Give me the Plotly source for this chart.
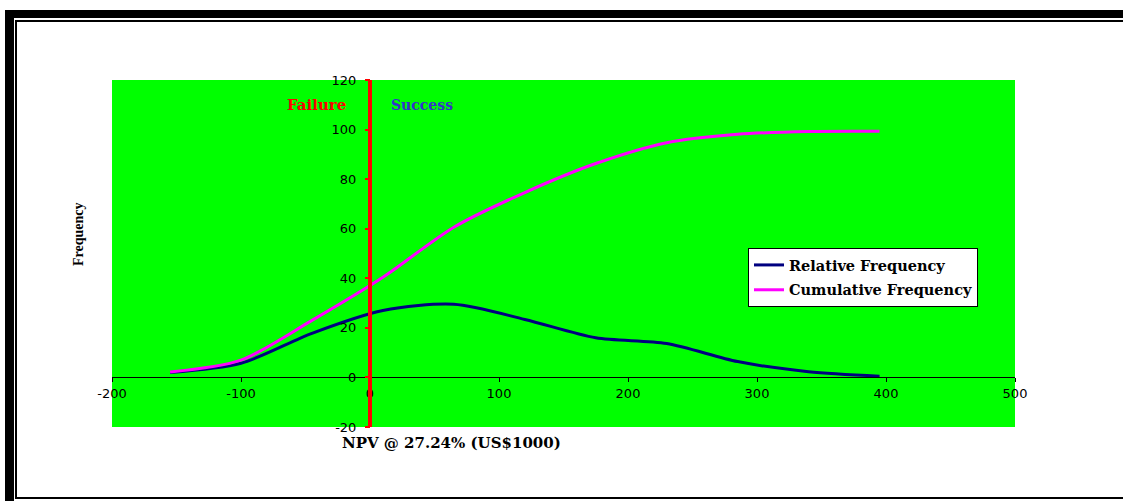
import plotly.graph_objects as go

# NPV bin midpoints (US$1000) and frequencies (%)
npv = [-155, -100, -45, 10, 65, 120, 175, 230, 285, 340, 395]
relative_freq = [2.0, 5.7, 17.8, 27.0, 29.5, 23.4, 16.0, 13.7, 6.4, 2.3, 0.5]
cumulative_freq = [2.2, 7.0, 23.0, 40.4, 60.6, 74.6, 86.3, 94.7, 98.1, 99.2, 99.3]

x_ticks = [-200, -100, 0, 100, 200, 300, 400, 500]
y_ticks = [-20, 0, 20, 40, 60, 80, 100, 120]
x_range = [-200, 500]
y_range = [-20, 120]
breakeven = 0

W, H = 1123, 501
L, R, T, B = 112, 1015, 80, 427  # plot area in pixels

SERIF = "DejaVu Serif"
NARROW_SERIF = "Liberation Serif"
SANS = "DejaVu Sans"


def px_x(p):
    return (p - L) / (R - L)


def px_y(p):
    return (B - p) / (B - T)


fig = go.Figure()

fig.add_trace(go.Scatter(
    x=npv, y=relative_freq, mode="lines", name="Relative Frequency",
    line=dict(color="#000080", width=3, shape="spline", smoothing=0.8),
    legendgroup="a",
))
fig.add_trace(go.Scatter(
    x=npv, y=cumulative_freq, mode="lines", name="Cumulative Frequency",
    line=dict(color="#FF00FF", width=3, shape="spline", smoothing=0.8),
    legendgroup="b",
))

shapes = []
# break-even line at NPV = 0
shapes.append(dict(type="line", xref="x", yref="y", x0=breakeven, x1=breakeven,
                   y0=y_range[0], y1=y_range[1],
                   line=dict(color="#FF0000", width=4), layer="above"))


def rect(x0, y0, x1, y1):
    return dict(type="rect", xref="paper", yref="paper",
                x0=px_x(x0), x1=px_x(x1), y0=px_y(y1), y1=px_y(y0),
                fillcolor="black", line=dict(width=0), layer="above")


# page frame
shapes += [
    rect(5, 10, W, 18),     # thick top
    rect(5, 10, 14, H),     # thick left
    rect(15, 20, W, 22),    # thin top
    rect(15, 20, 17, 499),  # thin left
    rect(15, 497, W, 499),  # bottom
]

annotations = [
    dict(text="<b>Failure</b>", x=-41.5, y=110, xref="x", yref="y",
         xanchor="center", yanchor="middle", showarrow=False,
         font=dict(family=SERIF, size=15, color="#FF0000")),
    dict(text="<b>Success</b>", x=40.5, y=110, xref="x", yref="y",
         xanchor="center", yanchor="middle", showarrow=False,
         font=dict(family=SERIF, size=14, color="#3333CC")),
    dict(text="<b>NPV @ 27.24% (US$1000)</b>", x=px_x(451), y=px_y(443),
         xref="paper", yref="paper", xanchor="center", yanchor="middle",
         showarrow=False, font=dict(family=SERIF, size=15, color="black")),
    dict(text="<b>Frequency</b>", x=px_x(78), y=px_y(234),
         xref="paper", yref="paper", xanchor="center", yanchor="middle",
         showarrow=False, textangle=-90,
         font=dict(family=NARROW_SERIF, size=14, color="black")),
]

fig.update_layout(
    width=W, height=H,
    margin=dict(l=L, r=W - R, t=T, b=H - B, pad=0),
    paper_bgcolor="white",
    plot_bgcolor="#00FF00",
    shapes=shapes,
    annotations=annotations,
    showlegend=True,
    legend=dict(
        x=px_x(748), y=px_y(248), xanchor="left", yanchor="top",
        bgcolor="white", bordercolor="black", borderwidth=1,
        font=dict(family=SERIF, size=14.5, color="black", weight="bold"),
        traceorder="grouped", tracegroupgap=3,
    ),
    xaxis=dict(
        range=x_range, tickvals=x_ticks, ticktext=[str(v) for v in x_ticks],
        showgrid=False, zeroline=False,
        showline=True, linecolor="black", linewidth=1,
        ticks="outside", ticklen=4, tickcolor="black", tickwidth=1,
        anchor="free",
        position=(0 - y_range[0]) / (y_range[1] - y_range[0]),
        tickfont=dict(family=SANS, size=13, color="black"),
    ),
    yaxis=dict(
        range=y_range, tickvals=y_ticks, ticktext=[str(v) for v in y_ticks],
        showgrid=False, zeroline=False,
        showline=True, linecolor="#FF0000", linewidth=1,
        ticks="outside", ticklen=5, tickcolor="#FF0000", tickwidth=2,
        anchor="free",
        position=(0 - x_range[0]) / (x_range[1] - x_range[0]),
        tickfont=dict(family=SANS, size=13, color="black"),
        ticklabelstandoff=6,
    ),
)

fig.write_html("out.html")
